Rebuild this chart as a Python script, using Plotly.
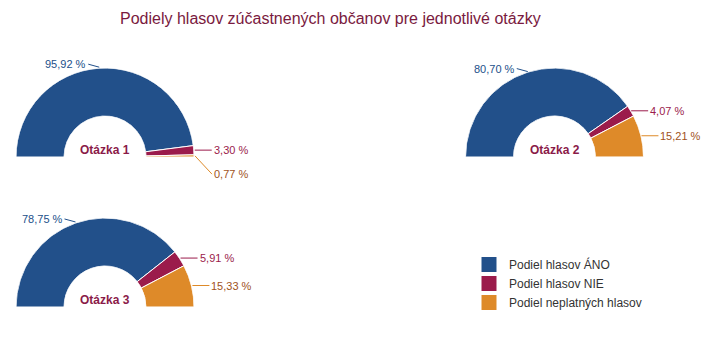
import math
import plotly.graph_objects as go

# Vote shares (%) for each question
questions = ["Otázka 1", "Otázka 2", "Otázka 3"]
series_names = ["Podiel hlasov ÁNO", "Podiel hlasov NIE", "Podiel neplatných hlasov"]
ano = [95.92, 80.70, 78.75]
nie = [3.30, 4.07, 5.91]
neplatne = [0.77, 15.21, 15.33]

colors = ["#22508a", "#9b1b4b", "#de8a29"]
label_colors = ["#22508a", "#9b1b4b", "#a0521c"]

W, H = 712, 343
FONT = "Liberation Sans, Arial, Helvetica, sans-serif"

# pixel boxes (left, right, top, baseline) of each half-donut
boxes = [(15, 195, 68, 157), (465, 644, 68, 157), (15, 195, 218, 307)]
HOLE = 0.46

fig = go.Figure()
annotations = []

for qi, q in enumerate(questions):
    vals = [ano[qi], nie[qi], neplatne[qi]]
    pid = "polar" if qi == 0 else f"polar{qi + 1}"
    left, right, top, base = boxes[qi]
    cum = 0.0
    for si, v in enumerate(vals):
        span = v / 100 * 180
        fig.add_trace(go.Barpolar(
            r=[1], theta=[cum * 1.8 + span / 2], width=[span], base=0,
            marker=dict(color=colors[si], line=dict(color="white", width=1)),
            name=series_names[si], showlegend=False, legendgroup=series_names[si],
            subplot=pid, hoverinfo="skip",
        ))
        cum += v

    fig.layout[pid] = dict(
        domain=dict(x=[left / W, right / W], y=[1 - base / H, 1 - top / H]),
        sector=[0, 180], hole=HOLE, bgcolor="rgba(0,0,0,0)",
        angularaxis=dict(visible=False, rotation=180, direction="clockwise"),
        radialaxis=dict(visible=False, range=[0, 1]),
    )

    # data labels with connector lines
    cx = (left + right) / 2
    R = (right - left) / 2
    cum = 0.0
    last_right_y = None
    for si, v in enumerate(vals):
        mid = cum + v / 2
        cum += v
        a = math.radians(180 - mid * 1.8)
        px = cx + R * math.cos(a)
        py = base - R * math.sin(a)
        right_side = math.cos(a) > 0
        ly = py
        if right_side:
            if last_right_y is not None and ly - last_right_y < 24:
                ly = last_right_y + 24
            last_right_y = ly
            ax = 17
        else:
            ax = -11
            ly = py - 3
        txt = f"{v:.2f}".replace(".", ",") + " %"
        annotations.append(dict(
            x=px / W, y=1 - py / H, xref="paper", yref="paper",
            ax=ax, ay=ly - py, axref="pixel", ayref="pixel",
            text=txt, showarrow=True, arrowhead=0, arrowwidth=1,
            arrowcolor=colors[si], xanchor="left" if right_side else "right",
            yanchor="middle", font=dict(family=FONT, size=11, color=label_colors[si]),
            borderpad=1,
        ))

    annotations.append(dict(
        x=cx / W, y=1 - (base - 7) / H, xref="paper", yref="paper",
        text=f"<b>{q}</b>", showarrow=False, xanchor="center", yanchor="middle",
        font=dict(family=FONT, size=12, color="#8a1a48"),
    ))

# legend entries: square swatches
for si, name in enumerate(series_names):
    fig.add_trace(go.Scatter(
        x=[None], y=[None], mode="markers", name=name, legendgroup=name,
        marker=dict(symbol="square", size=15, color=colors[si]),
        hoverinfo="skip",
    ))

fig.update_layout(
    width=W, height=H,
    margin=dict(l=0, r=0, t=0, b=0),
    paper_bgcolor="white", plot_bgcolor="rgba(0,0,0,0)",
    xaxis=dict(visible=False), yaxis=dict(visible=False),
    title=dict(text="Podiely hlasov zúčastnených občanov pre jednotlivé otázky",
               x=120 / W, xanchor="left", y=1 - 18 / H, yanchor="middle",
               font=dict(family=FONT, size=16, color="#7a1a40")),
    legend=dict(x=469 / W, y=1 - 250 / H, xanchor="left", yanchor="top",
                font=dict(family=FONT, size=12, color="#333333"),
                tracegroupgap=0, itemclick=False, itemsizing="trace",
                bgcolor="rgba(0,0,0,0)"),
    annotations=annotations,
    font=dict(family=FONT),
)

fig.write_html("out.html")
